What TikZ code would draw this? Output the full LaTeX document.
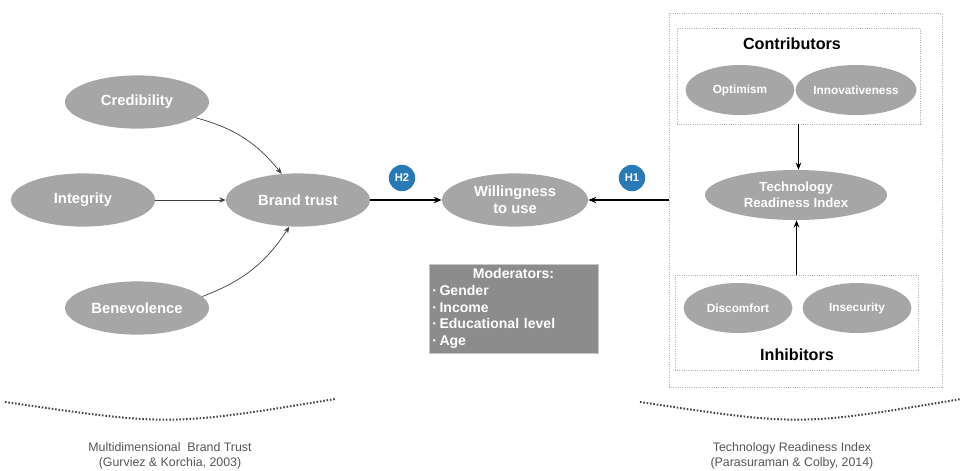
\documentclass[tikz,border=0pt]{standalone}
\usepackage{fontspec}
\setmainfont{Liberation Sans}
\usepackage{xcolor}
\usetikzlibrary{arrows.meta,positioning,shapes.geometric}
\definecolor{ovalgrey}{RGB}{166,166,166}
\definecolor{modgrey}{RGB}{140,140,140}
\definecolor{hypblue}{RGB}{40,122,182}
\definecolor{capgrey}{RGB}{85,85,85}

\begin{document}
\begin{tikzpicture}[
  x=0.025cm, y=-0.025cm,
  oval/.style={ellipse, fill=ovalgrey, text=white, inner sep=0pt,
    minimum width=3.6cm, minimum height=1.33cm, align=center,
    font=\bfseries\fontsize{10.5}{12}\selectfont},
  small oval/.style={oval, minimum width=2.72cm, minimum height=1.25cm,
    font=\bfseries\fontsize{8.4}{10}\selectfont},
  group/.style={draw=gray!60, densely dotted, line width=0.6pt, inner sep=0pt},
  hyp/.style={circle, fill=hypblue, text=white, inner sep=0pt,
    minimum size=0.66cm, font=\bfseries\fontsize{8}{9}\selectfont},
  thin arr/.style={-{Stealth[length=1.6mm,width=1.3mm]}, line width=0.5pt, black!75},
  arr/.style={-{Stealth[length=2mm,width=1.6mm]}, line width=1.2pt, black},
  tri arr/.style={-{Stealth[length=1.8mm,width=1.4mm]}, line width=0.9pt, black},
  arc/.style={line width=1.4pt, black!75, dash pattern=on 1.1pt off 1.3pt},
  caption/.style={align=center, text=capgrey, font=\fontsize{8.8}{10.8}\selectfont}
]
  \useasboundingbox[fill=white] (0,0) rectangle (961,470);

  % brand trust side
  \node[oval] (cred) at (137,102) {Credibility};
  \node[oval] (integ) at (83,200) {Integrity};
  \node[oval] (brand) at (298,200) {Brand trust};
  \node[oval] (benev) at (137,308) {Benevolence};
  \node[oval, minimum width=3.65cm] (will) at (515,200) {Willingness\\to use};

  \node[hyp] (h2) at (402,178) {H2};
  \node[hyp] (h1) at (632,178) {H1};

  \node[fill=modgrey, draw=gray!45, line width=0.6pt, minimum width=4.225cm,
    minimum height=2.225cm, text width=4.05cm, inner sep=0pt, align=left,
    text=white, font=\bfseries\fontsize{10}{11.8}\selectfont] (mod) at (513.5,308.5)
    {\makebox[4.05cm]{Moderators:}\\·\,Gender\\·\,Income\\·\,Educational level\\·\,Age};

  % technology readiness side
  \node[group, minimum width=6.825cm, minimum height=9.35cm] (outer) at (805.5,200) {};
  \node[group, minimum width=6.075cm, minimum height=2.4cm] (contrib) at (798.5,76) {};
  \node[group, minimum width=6.075cm, minimum height=2.375cm] (inhib) at (796.5,322.5) {};
  \node[font=\bfseries\fontsize{11.5}{13}\selectfont] (contlbl) at (792,44) {Contributors};
  \node[font=\bfseries\fontsize{11.5}{13}\selectfont] (inhlbl) at (797,355) {Inhibitors};

  \node[small oval] (optim) at (740,90) {Optimism};
  \node[small oval, minimum width=2.85cm] (innov) at (856,90) {Innovativeness};
  \node[oval, minimum width=4.55cm, minimum height=1.25cm,
    font=\bfseries\fontsize{9.4}{11}\selectfont] (tri) at (796,195) {Technology\\Readiness Index};
  \node[small oval] (discom) at (738,308) {Discomfort};
  \node[small oval] (insec) at (857,308) {Insecurity};

  % connectors
  \draw[thin arr] (cred.-15) to[bend left=18] (brand.122);
  \draw[thin arr] (integ) -- (brand);
  \draw[thin arr] (benev.10) to[bend right=18] (brand.-108);
  \draw[arr] (brand) -- (will);
  \draw[arr] (outer.west) -- (will);
  \draw[tri arr] (contrib.south) -- (contrib.south |- tri.north);
  \draw[tri arr] (inhib.north) -- (inhib.north |- tri.south);

  % dotted arcs and captions
  \coordinate (la) at (5,402);
  \coordinate (lb) at (335,399);
  \coordinate (ra) at (640,402);
  \coordinate (rb) at (961,399);
  \draw[arc] (la) .. controls (170,426) .. (lb);
  \draw[arc] (ra) .. controls (800,426) .. (rb);
  \node[caption] (lcap) at (170,456) {Multidimensional~ Brand Trust\\(Gurviez \& Korchia, 2003)};
  \node[caption] (rcap) at (792,456) {Technology Readiness Index\\(Parasuraman \& Colby, 2014)};
\end{tikzpicture}
\end{document}
